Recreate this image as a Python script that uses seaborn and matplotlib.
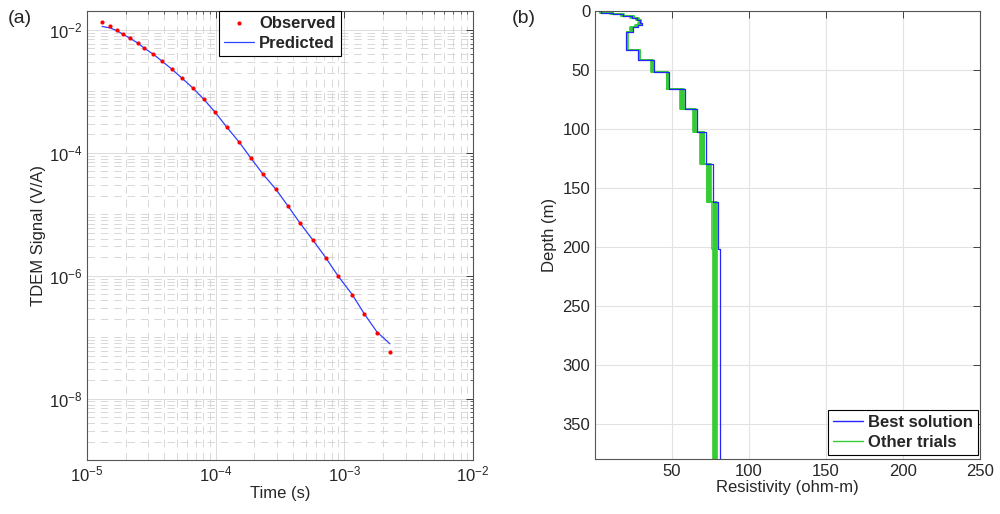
import numpy as np
import pandas as pd
import seaborn as sns
import matplotlib
matplotlib.use("Agg")
import matplotlib.pyplot as plt
from matplotlib.ticker import FixedLocator, LogLocator, NullFormatter, LogFormatterMathtext

# (a) TDEM sounding curve
time_s = [1.31e-5, 1.51e-5, 1.71e-5, 1.91e-5, 2.16e-5, 2.49e-5, 2.77e-5, 3.26e-5,
          3.83e-5, 4.57e-5, 5.47e-5, 6.67e-5, 8.11e-5, 9.89e-5, 1.22e-4, 1.52e-4,
          1.88e-4, 2.33e-4, 2.94e-4, 3.65e-4, 4.52e-4, 5.70e-4, 7.19e-4, 8.91e-4,
          1.15e-3, 1.42e-3, 1.79e-3, 2.26e-3]
observed = [1.37e-2, 1.18e-2, 9.82e-3, 8.45e-3, 7.28e-3, 6.03e-3, 5.00e-3, 4.00e-3,
            3.08e-3, 2.28e-3, 1.63e-3, 1.12e-3, 7.41e-4, 4.56e-4, 2.60e-4, 1.48e-4,
            8.15e-5, 4.47e-5, 2.55e-5, 1.35e-5, 7.14e-6, 3.78e-6, 1.93e-6, 9.82e-7,
            4.82e-7, 2.37e-7, 1.16e-7, 5.70e-8]
predicted = [1.14e-2, 1.08e-2, 9.70e-3, 8.50e-3, 7.30e-3, 6.10e-3, 5.10e-3, 4.05e-3,
             3.10e-3, 2.30e-3, 1.64e-3, 1.13e-3, 7.40e-4, 4.60e-4, 2.62e-4, 1.50e-4,
             8.20e-5, 4.50e-5, 2.55e-5, 1.36e-5, 7.20e-6, 3.80e-6, 1.95e-6, 1.00e-6,
             4.95e-7, 2.45e-7, 1.22e-7, 7.80e-8]

# (b) layered resistivity models: interfaces (m) and layer resistivities (ohm-m)
interfaces = [1.5, 3, 4.5, 6, 8, 10, 12, 14, 18, 33, 42, 52, 66, 83, 103, 130, 162, 202]
max_depth = 380
best_rho = [4, 12, 18, 24, 27, 29.5, 30.5, 28, 24.5, 20, 28, 38, 48, 58.5, 66, 72, 76.5, 80, 81]
trials_rho = [
    [4, 11, 17, 25, 28, 30, 29, 27, 24, 21, 29, 37, 47, 57, 65, 70, 75.5, 79, 79.5],
    [3, 10, 17, 24, 27, 29, 28, 26, 23, 21.5, 29.5, 37.5, 47.5, 56, 64, 69, 74, 78, 78.5],
    [4, 12, 19, 25, 28.5, 30, 29.5, 27.5, 24, 20.5, 28.5, 36.5, 46.5, 55.5, 63.5, 68.5, 73, 77, 77.5],
    [3, 11, 18, 23, 26.5, 28.5, 29, 27, 23.5, 21, 28.8, 37, 47, 56.5, 64.5, 70.5, 72.5, 76, 77],
    [4, 12, 18, 24, 27, 29, 30, 28, 24, 20.5, 28.3, 37.8, 46.8, 57.5, 65.5, 71, 74.5, 78.5, 76.5],
    [4, 11.5, 17.5, 24.5, 27.5, 29.5, 29.5, 27.5, 24, 21, 28.6, 37.3, 47.3, 56.8, 64.8, 69.8, 73.8, 77.5, 78],
]


def step_profile(rho):
    # turn layer model into a staircase (x = resistivity, y = depth)
    tops = [0] + interfaces
    bots = interfaces + [max_depth]
    xs, ys = [], []
    for r, t, b in zip(rho, tops, bots):
        xs += [r, r]
        ys += [t, b]
    return pd.DataFrame({"rho": xs, "depth": ys})


sns.set_style("white")
plt.rcParams["font.family"] = ["Liberation Sans", "DejaVu Sans"]
plt.rcParams["mathtext.default"] = "regular"
plt.rcParams["axes.unicode_minus"] = True

fig = plt.figure(figsize=(10, 5.14), dpi=100)
ax1 = fig.add_axes([0.087, 0.105, 0.386, 0.874])
ax2 = fig.add_axes([0.595, 0.107, 0.385, 0.872])

# ---- panel (a)
df_a = pd.DataFrame({"t": time_s, "obs": observed, "pred": predicted})
sns.scatterplot(data=df_a, x="t", y="obs", ax=ax1, color="red", marker="o", s=9,
                linewidth=0, label="Observed", zorder=3)
sns.lineplot(data=df_a, x="t", y="pred", ax=ax1, color="#3040ff", lw=0.9,
             label="Predicted", sort=False, estimator=None, zorder=2)
ax1.set_xscale("log")
ax1.set_yscale("log")
ax1.set_xlim(1e-5, 1e-2)
ax1.set_ylim(1e-9, 2.05e-2)
ax1.yaxis.set_major_locator(FixedLocator([1e-8, 1e-6, 1e-4, 1e-2]))
ax1.yaxis.set_major_formatter(LogFormatterMathtext())
ax1.yaxis.set_minor_locator(LogLocator(base=10, subs=np.arange(1, 10), numticks=100))
ax1.yaxis.set_minor_formatter(NullFormatter())
ax1.xaxis.set_minor_locator(LogLocator(base=10, subs=np.arange(2, 10), numticks=100))
ax1.xaxis.set_minor_formatter(NullFormatter())
ax1.grid(True, which="major", color="#d6d6d6", lw=0.6)
ax1.grid(True, which="minor", color="#d2d2d2", lw=0.6, ls=(0, (9, 7)))
ax1.set_xlabel("Time (s)", fontsize=12, labelpad=1)
ax1.set_ylabel("TDEM Signal (V/A)", fontsize=12, labelpad=2)
leg1 = ax1.legend(loc="upper center", bbox_to_anchor=(0.5, 1.0), borderaxespad=0,
                  frameon=True, fancybox=False, edgecolor="black", framealpha=1,
                  prop={"weight": "bold", "size": 12}, handlelength=1.8,
                  handletextpad=0.3, borderpad=0.3, labelspacing=0.3, markerscale=1.0)
leg1.get_frame().set_linewidth(0.8)

# ---- panel (b)
for k, rho in enumerate(trials_rho):
    sns.lineplot(data=step_profile(rho), x="rho", y="depth", ax=ax2, color="#33cc33",
                 lw=1.2, sort=False, estimator=None,
                 label="Other trials" if k == 0 else None, zorder=2)
sns.lineplot(data=step_profile(best_rho), x="rho", y="depth", ax=ax2, color="#2424ff",
             lw=0.9, sort=False, estimator=None, label="Best solution", zorder=3)
ax2.set_xlim(0, 250)
ax2.set_ylim(max_depth, 0)
ax2.set_xticks([50, 100, 150, 200, 250])
ax2.set_yticks([0, 50, 100, 150, 200, 250, 300, 350])
ax2.grid(True, color="#e2e2e2", lw=0.8)
ax2.set_xlabel("Resistivity (ohm-m)", fontsize=12, labelpad=1)
ax2.set_ylabel("Depth (m)", fontsize=12, labelpad=4)
h, l = ax2.get_legend_handles_labels()
order = [l.index("Best solution"), l.index("Other trials")]
leg2 = ax2.legend([h[i] for i in order], [l[i] for i in order], loc="lower right",
                  bbox_to_anchor=(0.995, 0.01), borderaxespad=0, frameon=True,
                  fancybox=False, edgecolor="black", framealpha=1,
                  prop={"weight": "bold", "size": 12}, handlelength=1.8,
                  handletextpad=0.3, borderpad=0.3, labelspacing=0.3)
leg2.get_frame().set_linewidth(0.8)
for line in leg2.get_lines():
    line.set_linewidth(1.0)

for ax in (ax1, ax2):
    ax.tick_params(which="both", direction="in", top=True, right=True,
                   labelsize=12, colors="#262626")
    ax.tick_params(which="major", length=5, width=0.6)
    ax.tick_params(which="minor", length=2.5, width=0.5)
    for sp in ax.spines.values():
        sp.set_color("#555555")
        sp.set_linewidth(0.8)
        sp.set_visible(True)

fig.text(0.008, 0.955, "(a)", fontsize=14)
fig.text(0.512, 0.955, "(b)", fontsize=14)

fig.savefig("out.png", dpi=100)
